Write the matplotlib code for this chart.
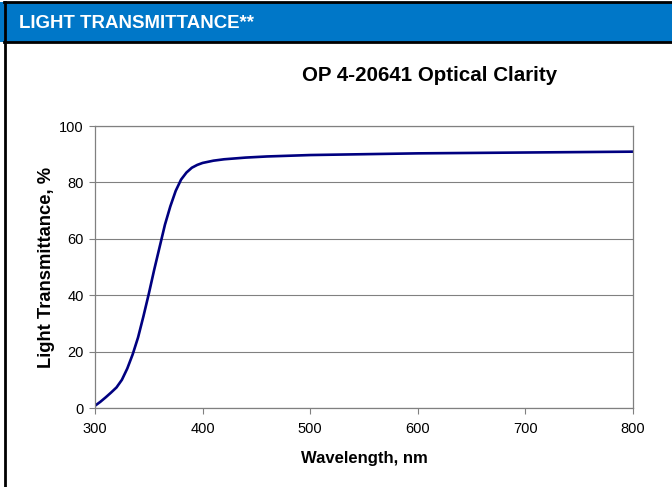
import matplotlib
matplotlib.use("Agg")
import matplotlib.pyplot as plt
from matplotlib.patches import Rectangle
from matplotlib.lines import Line2D

wavelength = [300, 305, 310, 315, 320, 325, 330, 335, 340, 345, 350, 355, 360, 365, 370,
              375, 380, 385, 390, 395, 400, 410, 420, 440, 460, 500, 550, 600, 650, 700, 750, 800]
transmittance = [0.8, 2.2, 3.8, 5.5, 7.3, 10.0, 14.0, 19.0, 25.0, 32.5, 40.5, 49.0, 57.0, 65.0, 71.5,
                 77.0, 81.0, 83.5, 85.2, 86.2, 86.9, 87.7, 88.2, 88.8, 89.2, 89.7, 90.0, 90.3, 90.45, 90.6, 90.75, 90.9]
x_ticks = [300, 400, 500, 600, 700, 800]
y_ticks = [0, 20, 40, 60, 80, 100]

plt.rcParams['font.family'] = ['Liberation Sans', 'DejaVu Sans']
W, H = 672, 487
fig = plt.figure(figsize=(W / 100, H / 100), dpi=100)

# header bar and frame
fig.patches.append(Rectangle((0, 1 - 42 / H), 1, 40 / H, transform=fig.transFigure,
                             facecolor='#0077C8', edgecolor='none', zorder=0))
for yy in (2, 42):
    fig.add_artist(Line2D([4 / W, 1], [1 - yy / H, 1 - yy / H], transform=fig.transFigure,
                          color='black', lw=2))
fig.add_artist(Line2D([5 / W, 5 / W], [0, 1 - 2 / H], transform=fig.transFigure, color='black', lw=2))
fig.text(19 / W, 1 - 23.5 / H, 'LIGHT TRANSMITTANCE**', color='white', fontsize=13.4,
         fontweight='bold', va='center', ha='left')

ax = fig.add_axes([95 / W, 1 - 408 / H, (633 - 95) / W, (408 - 126) / H])
ax.plot(wavelength, transmittance, color='#000080', lw=1.9, solid_capstyle='round')
ax.set_xlim(300, 800)
ax.set_ylim(0, 100)
ax.set_xticks(x_ticks)
ax.set_yticks(y_ticks)
ax.yaxis.grid(True, color='#808080', lw=0.8)
ax.set_axisbelow(True)
for s in ax.spines.values():
    s.set_color('#808080')
    s.set_linewidth(0.9)
ax.tick_params(direction='out', length=4, width=0.8, color='#808080', labelsize=10.5)
ax.tick_params(axis='x', pad=6)
ax.tick_params(axis='y', pad=4)
ax.set_xlabel('Wavelength, nm', fontsize=12, fontweight='bold', labelpad=11)
ax.set_ylabel('Light Transmittance, %', fontsize=13.2, fontweight='bold', labelpad=3)
fig.text(430 / W, 1 - 75.5 / H, 'OP 4-20641 Optical Clarity', fontsize=14.8, fontweight='bold',
         ha='center', va='center')

fig.savefig('out.png', dpi=100)
